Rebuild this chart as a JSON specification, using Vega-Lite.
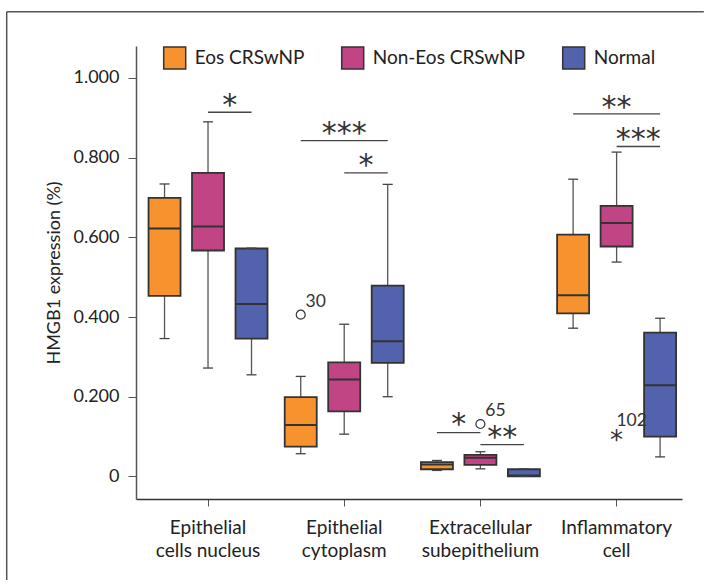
{
  "$schema": "https://vega.github.io/schema/vega-lite/v6.json",
  "width": 546,
  "height": 453,
  "autosize": {"type": "none"},
  "padding": {"left": 136, "top": 46, "right": 30, "bottom": 87},
  "background": "white",
  "config": {"view": {"stroke": null}, "font": "Lato", "text": {"font": "Lato"}},
  "datasets": {
    "boxes": [
      {"cell": "Epithelial cells nucleus", "group": "Eos CRSwNP", "low": 0.346, "q1": 0.453, "med": 0.622, "q3": 0.699, "high": 0.734},
      {"cell": "Epithelial cells nucleus", "group": "Non-Eos CRSwNP", "low": 0.272, "q1": 0.567, "med": 0.627, "q3": 0.762, "high": 0.890},
      {"cell": "Epithelial cells nucleus", "group": "Normal", "low": 0.255, "q1": 0.346, "med": 0.433, "q3": 0.572, "high": 0.573},
      {"cell": "Epithelial cytoplasm", "group": "Eos CRSwNP", "low": 0.057, "q1": 0.075, "med": 0.129, "q3": 0.199, "high": 0.251},
      {"cell": "Epithelial cytoplasm", "group": "Non-Eos CRSwNP", "low": 0.106, "q1": 0.163, "med": 0.243, "q3": 0.286, "high": 0.382},
      {"cell": "Epithelial cytoplasm", "group": "Normal", "low": 0.200, "q1": 0.285, "med": 0.339, "q3": 0.479, "high": 0.733},
      {"cell": "Extracellular subepithelium", "group": "Eos CRSwNP", "low": 0.015, "q1": 0.018, "med": 0.030, "q3": 0.036, "high": 0.040},
      {"cell": "Extracellular subepithelium", "group": "Non-Eos CRSwNP", "low": 0.019, "q1": 0.029, "med": 0.047, "q3": 0.054, "high": 0.062},
      {"cell": "Extracellular subepithelium", "group": "Normal", "low": 0.0, "q1": 0.0, "med": 0.002, "q3": 0.018, "high": 0.019},
      {"cell": "Inflammatory cell", "group": "Eos CRSwNP", "low": 0.372, "q1": 0.409, "med": 0.455, "q3": 0.607, "high": 0.746},
      {"cell": "Inflammatory cell", "group": "Non-Eos CRSwNP", "low": 0.538, "q1": 0.577, "med": 0.636, "q3": 0.679, "high": 0.814},
      {"cell": "Inflammatory cell", "group": "Normal", "low": 0.049, "q1": 0.100, "med": 0.229, "q3": 0.361, "high": 0.397}
    ],
    "sig": [
      {"id": "a", "cell": "Epithelial cells nucleus", "group": "Non-Eos CRSwNP", "y": 0.914},
      {"id": "a", "cell": "Epithelial cells nucleus", "group": "Normal", "y": 0.914},
      {"id": "b", "cell": "Epithelial cytoplasm", "group": "Eos CRSwNP", "y": 0.843},
      {"id": "b", "cell": "Epithelial cytoplasm", "group": "Normal", "y": 0.843},
      {"id": "c", "cell": "Epithelial cytoplasm", "group": "Non-Eos CRSwNP", "y": 0.762},
      {"id": "c", "cell": "Epithelial cytoplasm", "group": "Normal", "y": 0.762},
      {"id": "d", "cell": "Extracellular subepithelium", "group": "Eos CRSwNP", "y": 0.110},
      {"id": "d", "cell": "Extracellular subepithelium", "group": "Non-Eos CRSwNP", "y": 0.110},
      {"id": "e", "cell": "Extracellular subepithelium", "group": "Non-Eos CRSwNP", "y": 0.080},
      {"id": "e", "cell": "Extracellular subepithelium", "group": "Normal", "y": 0.080},
      {"id": "f", "cell": "Inflammatory cell", "group": "Eos CRSwNP", "y": 0.910},
      {"id": "f", "cell": "Inflammatory cell", "group": "Normal", "y": 0.910},
      {"id": "g", "cell": "Inflammatory cell", "group": "Non-Eos CRSwNP", "y": 0.828},
      {"id": "g", "cell": "Inflammatory cell", "group": "Normal", "y": 0.828}
    ],
    "stars": [
      {"cell": "Epithelial cells nucleus", "group": "Non-Normal", "y": 0.951, "label": "*"},
      {"cell": "Epithelial cytoplasm", "group": "Non-Eos CRSwNP", "y": 0.880, "label": "***"},
      {"cell": "Epithelial cytoplasm", "group": "Non-Normal", "y": 0.800, "label": "*"},
      {"cell": "Extracellular subepithelium", "group": "Eos-Non", "y": 0.149, "label": "*"},
      {"cell": "Extracellular subepithelium", "group": "Non-Normal", "y": 0.117, "label": "**"},
      {"cell": "Inflammatory cell", "group": "Non-Eos CRSwNP", "y": 0.944, "label": "**"},
      {"cell": "Inflammatory cell", "group": "Non-Normal", "y": 0.864, "label": "***"}
    ],
    "outliers": [
      {"cell": "Epithelial cytoplasm", "group": "Eos CRSwNP", "y": 0.406, "kind": "outlier", "case": "30"},
      {"cell": "Extracellular subepithelium", "group": "Non-Eos CRSwNP", "y": 0.1315, "kind": "outlier", "case": "65"},
      {"cell": "Inflammatory cell", "group": "Non-Eos CRSwNP", "y": 0.1064, "kind": "extreme", "case": "102"}
    ]
  },
  "layer": [
    {
      "data": {"values": [{"frame": "border"}]},
      "layer": [
        {
          "mark": {"type": "rule", "stroke": "#555555", "strokeWidth": 1.5},
          "encoding": {
            "x": {"datum": -0.2368, "type": "quantitative", "scale": {"domain": [0, 1]}, "axis": null},
            "x2": {"datum": 1.04},
            "y": {"datum": 1.1664, "type": "quantitative"}
          }
        },
        {
          "mark": {"type": "rule", "stroke": "#555555", "strokeWidth": 1.5},
          "encoding": {
            "x": {"datum": -0.2368, "type": "quantitative", "scale": {"domain": [0, 1]}, "axis": null},
            "y": {"datum": 1.1664, "type": "quantitative"},
            "y2": {"datum": -0.26}
          }
        }
      ]
    },
    {
      "encoding": {
        "x": {
          "field": "cell", "type": "nominal", "sort": null,
          "scale": {"domain": ["Epithelial cells nucleus", "Epithelial cytoplasm", "Extracellular subepithelium", "Inflammatory cell"], "paddingInner": 0.119, "paddingOuter": 0.064, "align": 0.69},
          "axis": {
            "title": null, "labelAngle": 0, "labelFontSize": 19, "labelLineHeight": 23.5, "labelBaseline": "top",
            "labelExpr": "datum.value == 'Epithelial cells nucleus' ? ['Epithelial', 'cells nucleus'] : datum.value == 'Epithelial cytoplasm' ? ['Epithelial', 'cytoplasm'] : datum.value == 'Extracellular subepithelium' ? ['Extracellular', 'subepithelium'] : ['Inflammatory', 'cell']",
            "tickSize": 7, "tickColor": "#555555", "domainColor": "#333333", "domainWidth": 1.5, "labelPadding": 12, "labelColor": "#222222"
          }
        },
        "xOffset": {
          "field": "group", "type": "nominal",
          "scale": {"domain": ["Eos CRSwNP", "Eos-Non", "Non-Eos CRSwNP", "Non-Normal", "Normal"], "paddingInner": 0, "paddingOuter": 0.259}
        }
      },
      "layer": [
        {
          "data": {"name": "boxes"},
          "layer": [
            {
              "mark": {"type": "rule", "color": "#555555", "strokeWidth": 1.3},
              "encoding": {
                "y": {"field": "low", "type": "quantitative", "scale": {"domain": [-0.0567, 1.0803], "nice": false, "zero": false},
                  "axis": {"title": "HMGB1 expression (%)", "values": [0, 0.2, 0.4, 0.6, 0.8, 1], "labelExpr": "datum.value == 0 ? '0' : format(datum.value, '.3f')", "grid": false, "tickSize": 8, "tickColor": "#555555", "domainColor": "#555555", "domainWidth": 1.5, "labelPadding": 9, "labelFontSize": 18, "labelColor": "#222222", "titleFontSize": 18, "titleFontWeight": "normal", "titleColor": "#222222", "titlePadding": 9}},
                "y2": {"field": "high"}
              }
            },
            {
              "mark": {"type": "bar", "size": 32, "stroke": "#333333", "strokeWidth": 1.8},
              "encoding": {
                "y": {"field": "q1", "type": "quantitative"},
                "y2": {"field": "q3"},
                "color": {
                  "field": "group", "type": "nominal",
                  "scale": {"domain": ["Eos CRSwNP", "Non-Eos CRSwNP", "Normal"], "range": ["#F7932F", "#C14585", "#5262AD"]},
                  "legend": {"orient": "none", "legendX": 26.7, "legendY": 0, "direction": "horizontal", "title": null, "symbolType": "square", "symbolSize": 484, "symbolStrokeColor": "#333333", "symbolStrokeWidth": 1.5, "symbolOpacity": 1, "labelFontSize": 19, "labelOffset": 8, "columnPadding": 34, "padding": 0, "labelColor": "#222222"}
                }
              }
            },
            {
              "mark": {"type": "tick", "size": 32, "thickness": 2, "color": "#333333", "opacity": 1},
              "encoding": {"y": {"field": "med", "type": "quantitative"}}
            },
            {
              "mark": {"type": "tick", "size": 10, "thickness": 1.3, "color": "#444444", "opacity": 1},
              "encoding": {"y": {"field": "low", "type": "quantitative"}}
            },
            {
              "mark": {"type": "tick", "size": 10, "thickness": 1.3, "color": "#444444", "opacity": 1},
              "encoding": {"y": {"field": "high", "type": "quantitative"}}
            }
          ]
        },
        {
          "data": {"name": "sig"},
          "mark": {"type": "line", "color": "#444444", "strokeWidth": 1.3},
          "encoding": {
            "y": {"field": "y", "type": "quantitative"},
            "detail": {"field": "id"}
          }
        },
        {
          "data": {"name": "stars"},
          "mark": {"type": "text", "font": "DejaVu Sans", "fontSize": 30, "color": "#333333", "baseline": "alphabetic", "dy": 17},
          "encoding": {
            "y": {"field": "y", "type": "quantitative"},
            "text": {"field": "label"}
          }
        },
        {
          "data": {"name": "outliers"},
          "transform": [{"filter": "datum.kind == 'outlier'"}],
          "mark": {"type": "point", "shape": "circle", "filled": false, "size": 80, "stroke": "#333333", "strokeWidth": 1.2, "opacity": 1},
          "encoding": {"y": {"field": "y", "type": "quantitative"}}
        },
        {
          "data": {"name": "outliers"},
          "transform": [{"filter": "datum.kind == 'extreme'"}],
          "mark": {"type": "text", "font": "DejaVu Sans", "fontSize": 26, "color": "#333333", "baseline": "alphabetic", "dy": 14.7, "text": "*"},
          "encoding": {"y": {"field": "y", "type": "quantitative"}}
        },
        {
          "data": {"name": "outliers"},
          "mark": {"type": "text", "fontSize": 17.5, "color": "#333333", "baseline": "middle", "dx": 15, "dy": -13},
          "encoding": {
            "y": {"field": "y", "type": "quantitative"},
            "text": {"field": "case"}
          }
        }
      ]
    }
  ],
  "resolve": {"scale": {"x": "independent"}}
}
